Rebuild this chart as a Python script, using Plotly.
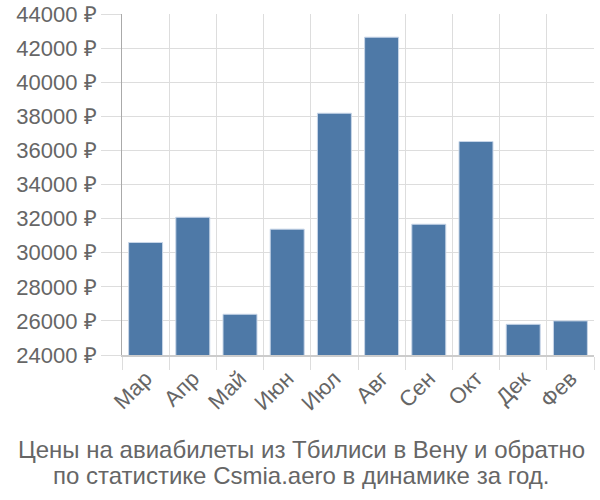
import plotly.graph_objects as go

months = ["Мар", "Апр", "Май", "Июн", "Июл", "Авг", "Сен", "Окт", "Дек", "Фев"]
prices = [30600, 32080, 26390, 31380, 38180, 42640, 31670, 36520, 25800, 26000]
y_ticks = list(range(24000, 44001, 2000))
y_labels = [f"{v} ₽" for v in y_ticks]
title_lines = ["Цены на авиабилеты из Тбилиси в Вену и обратно",
               "по статистике Csmia.aero в динамике за год."]

fig = go.Figure(go.Bar(
    x=months, y=prices,
    marker=dict(color="#4e79a7", line=dict(color="#c8d6e8", width=1)),
))

font_family = "Liberation Sans, Arial, sans-serif"
annotations = []
for i, line in enumerate(title_lines):
    annotations.append(dict(
        text=line, x=(301 - 122) / 472, y=0, xref="paper", yref="paper",
        xanchor="center", yanchor="middle", yshift=-94 - 26 * i,
        showarrow=False, font=dict(size=24, color="#666666", family=font_family),
    ))

fig.update_layout(
    width=600, height=500,
    margin=dict(l=122, r=6, t=14, b=145, autoexpand=False),
    plot_bgcolor="white", paper_bgcolor="white",
    bargap=0.28,
    showlegend=False,
    font=dict(family=font_family, color="#666666", size=22),
    annotations=annotations,
)
fig.update_xaxes(
    type="category", tickson="boundaries", ticks="outside", ticklen=13,
    tickcolor="#dddddd", tickwidth=1, automargin=False,
    showgrid=True, gridcolor="#dddddd", gridwidth=1,
    showline=True, linecolor="#cccccc", linewidth=2,
    tickangle=-45, tickfont=dict(size=22, color="#666666"),
)
fig.update_yaxes(
    range=[24000, 44000], tickmode="array", tickvals=y_ticks, ticktext=y_labels,
    ticks="outside", ticklen=20, tickcolor="#dddddd", tickwidth=1, automargin=False,
    showgrid=True, gridcolor="#dddddd", gridwidth=1,
    showline=True, linecolor="#aaaaaa", linewidth=1,
    zeroline=False,
    tickfont=dict(size=22, color="#666666"),
)
fig.write_html("out.html")
